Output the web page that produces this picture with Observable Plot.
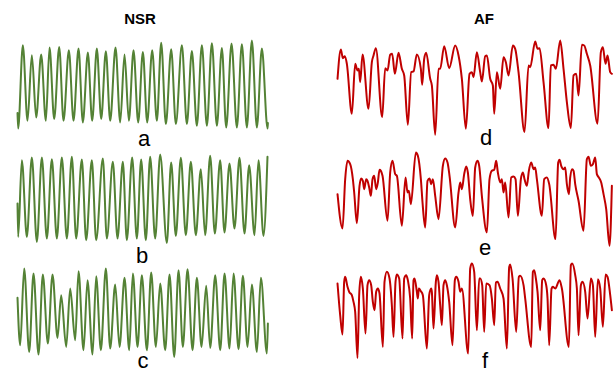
<!DOCTYPE html>
<html>
<head>
<meta charset="utf-8">
<script src="https://cdn.jsdelivr.net/npm/d3@7"></script>
<script src="https://cdn.jsdelivr.net/npm/@observablehq/plot@0.6"></script>
<style>
  html, body { margin: 0; padding: 0; background: #fff; }
  #chart { position: relative; width: 616px; height: 373px; overflow: hidden; background: #fff; }
  .panel { position: absolute; }
  #overlay { position: absolute; left: 0; top: 0; }
</style>
</head>
<body>
<div id="chart"></div>
<script>
// Column titles and panel labels
const columnTitles = ["NSR", "AF"];
const panelLabels = ["a", "b", "c", "d", "e", "f"];

// Signal traces: [sample, amplitude]
const nsrA = [[22,68],[24,22],[38,270],[52,45],[65,240],[78,55],[93,242],[107,45],[118,263],[132,50],[147,265],[160,45],[176,255],[190,45],[205,260],[218,40],[233,248],[246,45],[260,260],[273,50],[287,252],[300,45],[316,263],[330,40],[343,242],[356,45],[370,255],[384,40],[398,250],[411,40],[426,255],[440,45],[453,277],[467,35],[483,258],[497,35],[515,270],[530,35],[545,253],[560,30],[575,270],[590,30],[605,276],[620,30],[635,262],[648,25],[664,275],[680,25],[695,273],[710,25],[725,284],[740,25],[755,260],[772,22],[773,38]];
const nsrB = [[22,125],[24,25],[35,255],[50,25],[65,263],[80,10],[95,263],[110,20],[125,258],[140,20],[155,263],[170,20],[185,265],[198,20],[215,257],[228,15],[245,255],[258,15],[278,260],[290,20],[308,250],[322,20],[338,250],[350,15],[366,263],[380,20],[393,257],[407,15],[420,265],[435,20],[450,272],[470,7],[483,248],[497,28],[512,262],[527,30],[542,250],[557,30],[572,228],[585,30],[600,268],[614,35],[630,255],[643,38],[658,245],[673,50],[688,262],[703,35],[717,240],[733,30],[745,255],[760,28],[772,265]];
const nsrC = [[22,172],[30,30],[42,260],[57,10],[70,245],[85,2],[98,242],[113,35],[127,242],[142,52],[153,180],[168,25],[180,200],[195,45],[205,252],[220,15],[232,225],[247,2],[258,237],[272,15],[287,260],[300,20],[315,212],[328,25],[343,232],[357,15],[368,245],[382,25],[395,240],[410,15],[423,248],[437,25],[450,215],[465,15],[478,242],[492,-5],[505,255],[518,25],[532,258],[547,15],[560,232],[574,25],[588,208],[600,22],[615,240],[630,15],[643,245],[658,20],[670,245],[685,18],[698,238],[712,25],[725,212],[740,10],[752,232],[770,5],[773,95]];
const afD = [[22,170],[32,258],[38,232],[44,238],[50,215],[65,65],[75,215],[82,195],[86,200],[90,160],[97,243],[115,80],[125,220],[130,240],[137,262],[156,55],[165,202],[172,195],[180,242],[186,245],[194,185],[205,248],[215,200],[222,180],[233,32],[243,190],[250,192],[260,243],[272,200],[276,152],[282,230],[288,248],[300,170],[305,150],[315,2],[325,200],[330,200],[342,268],[357,202],[375,270],[385,240],[395,170],[407,20],[418,185],[425,190],[430,175],[440,250],[450,190],[455,162],[465,238],[470,240],[480,170],[488,150],[492,65],[500,190],[510,140],[520,235],[527,220],[535,180],[548,270],[555,260],[565,190],[583,10],[595,210],[600,205],[615,282],[622,260],[628,262],[640,160],[655,22],[662,210],[670,212],[677,200],[690,285],[700,200],[710,100],[722,22],[730,180],[738,185],[745,120],[755,272],[762,270],[770,245],[780,210],[802,35],[812,250],[818,265],[826,215],[832,240],[840,190],[845,185]];
const afE = [[22,155],[37,52],[45,200],[52,255],[60,245],[68,200],[72,160],[80,68],[88,180],[93,202],[98,195],[102,170],[108,200],[112,195],[117,175],[122,150],[127,200],[132,210],[138,170],[143,190],[148,228],[152,225],[157,210],[172,75],[180,220],[187,255],[195,215],[200,210],[215,60],[226,205],[232,160],[236,165],[242,125],[257,280],[263,270],[272,200],[277,130],[285,55],[292,195],[298,202],[303,185],[308,200],[315,150],[325,80],[338,240],[345,262],[352,250],[358,210],[375,55],[385,160],[390,190],[395,170],[402,215],[408,238],[413,220],[420,140],[428,90],[435,235],[442,255],[447,240],[455,150],[470,40],[478,200],[485,225],[492,228],[498,255],[503,220],[510,190],[515,200],[520,160],[525,190],[535,85],[543,205],[550,208],[556,200],[563,90],[572,200],[578,220],[583,200],[590,180],[596,225],[603,250],[610,230],[615,235],[620,200],[635,90],[642,200],[650,205],[657,185],[676,20],[684,250],[688,258],[693,240],[700,230],[705,235],[710,185],[716,155],[720,205],[726,230],[730,225],[735,185],[745,135],[760,45],[770,260],[775,267],[782,240],[788,245],[795,265],[800,215],[806,205],[813,190],[820,155],[828,110],[838,0],[845,180]];
const afF = [[22,215],[30,120],[37,62],[42,220],[45,235],[52,205],[57,190],[65,180],[70,160],[75,130],[82,-8],[87,180],[92,235],[98,200],[106,65],[112,210],[117,225],[123,210],[128,160],[133,135],[138,190],[143,200],[148,185],[158,25],[163,220],[170,250],[178,230],[185,150],[190,55],[196,220],[200,242],[207,230],[217,50],[222,230],[228,240],[233,225],[240,170],[246,50],[250,225],[253,230],[260,190],[263,170],[266,200],[272,192],[278,180],[290,20],[297,180],[303,200],[305,190],[310,80],[317,220],[320,240],[325,220],[330,150],[335,90],[340,210],[345,225],[350,210],[357,160],[367,30],[374,225],[378,235],[385,220],[390,190],[395,200],[414,5],[420,260],[425,275],[432,250],[440,75],[447,230],[450,230],[456,210],[462,70],[468,215],[478,210],[485,170],[492,90],[497,218],[502,220],[510,200],[520,170],[530,20],[537,265],[540,272],[547,230],[558,70],[566,235],[570,238],[580,210],[585,170],[603,25],[608,250],[612,255],[617,230],[622,190],[630,75],[636,225],[640,230],[648,210],[652,170],[657,30],[664,200],[668,205],[675,200],[688,225],[695,200],[716,25],[722,270],[726,275],[735,240],[740,200],[745,60],[752,210],[757,220],[765,190],[772,110],[782,230],[788,210],[795,55],[803,228],[810,200],[818,85],[826,242],[832,235],[840,180],[845,135]];

const seriesList = [nsrA, nsrB, nsrC, afD, afE, afF];
const colors = {NSR: "#548235", AF: "#c00000"};

// Layout (plot-area boxes in page pixels: left, top, right, bottom)
const boxes = [
  [17.3, 40.3, 267.7, 128.3],
  [17.3, 154.3, 267.3, 242.7],
  [17.3, 268.3, 267.7, 356.7],
  [337.3, 40.0, 611.7, 134.3],
  [337.3, 151.7, 611.7, 245.0],
  [337.3, 263.3, 611.7, 357.7]
];
const labelPos = [[144,146],[142,263],[143,368],[486,145],[485,255],[485,368]];
const titlePos = [[140,23.5],[484,23.5]];

const chart = document.getElementById("chart");
const m = 2;
seriesList.forEach((series, i) => {
  const [x0, y0, x1, y1] = boxes[i];
  const data = series.map(([t, v]) => ({t, v}));
  const group = i < 3 ? "NSR" : "AF";
  const svg = Plot.plot({
    width: x1 - x0 + 2 * m,
    height: y1 - y0 + 2 * m,
    margin: m,
    style: {background: "transparent", overflow: "visible"},
    x: {domain: d3.extent(data, d => d.t), axis: null},
    y: {domain: d3.extent(data, d => d.v), axis: null},
    marks: [
      Plot.line(data, {x: "t", y: "v", stroke: colors[group], strokeWidth: 2, curve: "monotone-x", strokeLinejoin: "round"})
    ]
  });
  const div = document.createElement("div");
  div.className = "panel";
  div.style.left = (x0 - m) + "px";
  div.style.top = (y0 - m) + "px";
  div.appendChild(svg);
  chart.appendChild(div);
});

const overlay = d3.create("svg")
  .attr("id", "overlay")
  .attr("width", 616).attr("height", 373);
overlay.selectAll("text.title").data(columnTitles).join("text")
  .attr("class", "title")
  .attr("x", (d, i) => titlePos[i][0]).attr("y", (d, i) => titlePos[i][1])
  .attr("text-anchor", "middle")
  .attr("font-family", "Liberation Sans, Arial, sans-serif")
  .attr("font-weight", "bold").attr("font-size", 15)
  .attr("fill", "#000").text(d => d);
overlay.selectAll("text.label").data(panelLabels).join("text")
  .attr("class", "label")
  .attr("x", (d, i) => labelPos[i][0]).attr("y", (d, i) => labelPos[i][1])
  .attr("text-anchor", "middle")
  .attr("font-family", "Liberation Sans, Arial, sans-serif")
  .attr("font-size", 22)
  .attr("fill", "#000").text(d => d);
chart.appendChild(overlay.node());
</script>
</body>
</html>
